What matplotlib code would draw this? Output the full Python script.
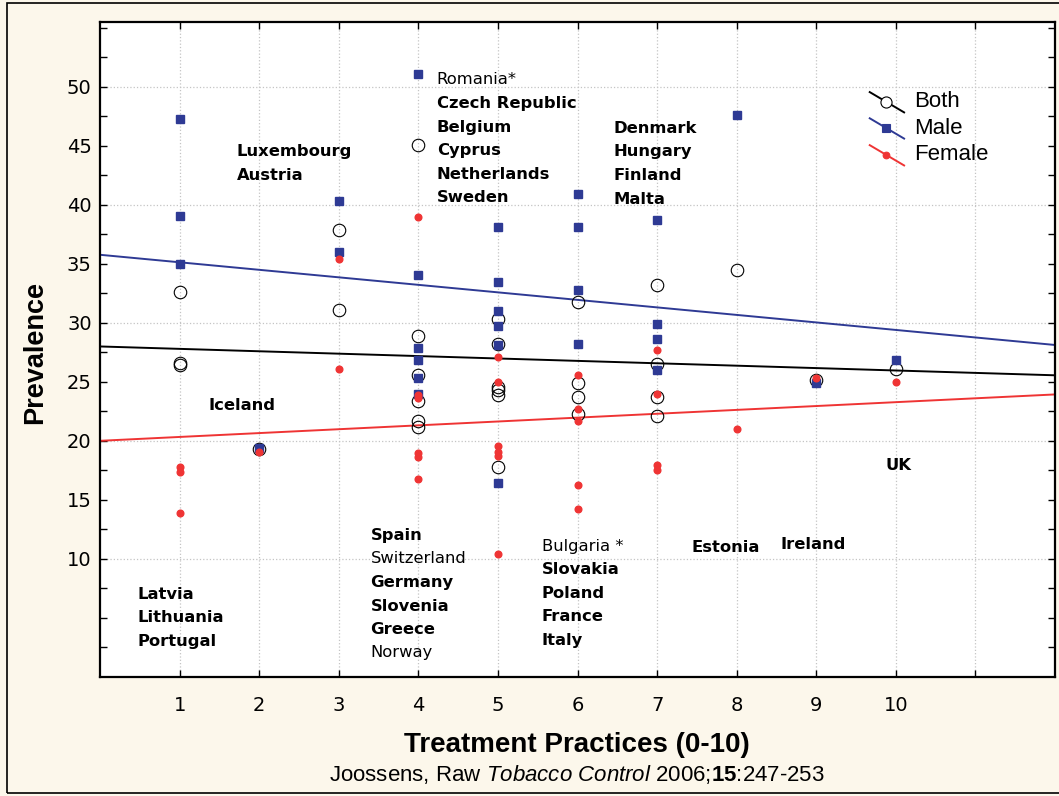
import numpy as np
import matplotlib
matplotlib.use("Agg")
import matplotlib.pyplot as plt
from matplotlib.patches import Rectangle

plt.rcParams['mathtext.fontset'] = 'custom'
plt.rcParams['mathtext.rm'] = 'Liberation Sans'
plt.rcParams['mathtext.it'] = 'Liberation Sans:italic'
plt.rcParams['mathtext.bf'] = 'Liberation Sans:bold'

# treatment practice score (x) and prevalence values
both_x = [1, 1, 1, 2, 3, 3, 4, 4, 4, 4, 4, 4, 5, 5, 5, 5, 5, 5,
          6, 6, 6, 6, 7, 7, 7, 7, 8, 9, 10]
both_y = [32.6, 26.6, 26.4, 19.3, 37.9, 31.1,
          45.1, 28.9, 25.6, 23.4, 21.7, 21.2,
          30.3, 28.2, 24.6, 24.3, 23.9, 17.8,
          31.8, 24.9, 23.7, 22.3,
          33.2, 26.5, 23.7, 22.1,
          34.5, 25.2, 26.1]

male_x = [1, 1, 1, 2, 3, 3, 4, 4, 4, 4, 4, 4, 5, 5, 5, 5, 5, 5,
          6, 6, 6, 6, 7, 7, 7, 7, 8, 9, 10]
male_y = [47.3, 39.1, 35.0, 19.4, 40.3, 36.0,
          51.1, 34.1, 27.9, 26.9, 25.3, 24.0,
          38.1, 33.5, 31.0, 29.7, 28.1, 16.4,
          40.9, 38.1, 32.8, 28.2,
          38.7, 29.9, 28.6, 26.0,
          47.6, 24.9, 26.9]

female_x = [1, 1, 1, 2, 3, 3, 4, 4, 4, 4, 4, 4, 5, 5, 5, 5, 5, 5,
            6, 6, 6, 6, 6, 7, 7, 7, 7, 8, 9, 10]
female_y = [17.8, 17.4, 13.9, 19.1, 35.4, 26.1,
            39.0, 23.9, 23.6, 19.0, 18.6, 16.8,
            27.1, 25.0, 19.6, 19.1, 18.7, 10.4,
            25.6, 22.7, 21.7, 16.3, 14.2,
            27.7, 24.0, 18.0, 17.5,
            21.0, 25.3, 25.0]

# country labels: (text, x, y, bold)
labels = [
    ("Latvia", 0.47, 7.0, True), ("Lithuania", 0.47, 5.0, True), ("Portugal", 0.47, 3.0, True),
    ("Luxembourg", 1.72, 44.5, True), ("Austria", 1.72, 42.5, True),
    ("Iceland", 1.36, 23.0, True),
    ("Romania*", 4.23, 50.6, False), ("Czech Republic", 4.23, 48.6, True),
    ("Belgium", 4.23, 46.6, True), ("Cyprus", 4.23, 44.6, True),
    ("Netherlands", 4.23, 42.6, True), ("Sweden", 4.23, 40.6, True),
    ("Denmark", 6.45, 46.5, True), ("Hungary", 6.45, 44.5, True),
    ("Finland", 6.45, 42.5, True), ("Malta", 6.45, 40.5, True),
    ("Spain", 3.40, 12.0, True), ("Switzerland", 3.40, 10.0, False),
    ("Germany", 3.40, 8.0, True), ("Slovenia", 3.40, 6.0, True),
    ("Greece", 3.40, 4.0, True), ("Norway", 3.40, 2.1, False),
    ("Bulgaria *", 5.55, 11.1, False), ("Slovakia", 5.55, 9.1, True),
    ("Poland", 5.55, 7.1, True), ("France", 5.55, 5.1, True), ("Italy", 5.55, 3.1, True),
    ("Estonia", 7.43, 11.0, True), ("Ireland", 8.55, 11.2, True), ("UK", 9.87, 17.9, True),
]

bg = '#fcf7eb'
c_male = '#2e3a94'
c_female = '#ef3434'

fig = plt.figure(figsize=(10.59, 7.96), dpi=100, facecolor=bg)
ax = fig.add_axes([100 / 1059, 1 - 677 / 796, 955 / 1059, 655 / 796])
ax.set_facecolor('white')

# frame around the figure
fig.patches.append(Rectangle((7 / 1059, 3 / 796), 1.1, 1 - 6 / 796, transform=fig.transFigure,
                             fill=False, edgecolor='black', lw=1.2))

ax.set_xlim(0, 12)
ax.set_ylim(0, 55.5)

# regression lines
xx = np.array([0, 12])
for xs, ys, col in [(both_x, both_y, 'black'), (male_x, male_y, c_male), (female_x, female_y, c_female)]:
    k, b = np.polyfit(xs, ys, 1)
    ax.plot(xx, k * xx + b, color=col, lw=1.4, zorder=2)

ax.plot(both_x, both_y, 'o', ms=9, mfc='none', mec='black', mew=0.8, zorder=3)
ax.plot(male_x, male_y, 's', ms=5.5, color=c_male, zorder=4)
ax.plot(female_x, female_y, 'o', ms=4.8, color=c_female, zorder=5)

for txt, x, y, bold in labels:
    if bold:
        ax.text(x, y, txt, fontsize=11.8, fontweight='bold', family='DejaVu Sans', va='center', ha='left')
    else:
        ax.text(x, y, txt, fontsize=11.8, family='DejaVu Sans', va='center', ha='left')

# ticks and grid
ax.set_xticks(np.arange(1, 12))
ax.set_xticklabels([str(i) for i in range(1, 11)] + [''])
yt = np.arange(2.5, 55.1, 2.5)
ax.set_yticks(yt)
ax.set_yticklabels([('%g' % v) if (10 <= v <= 50 and v % 5 == 0) else '' for v in yt])
ax.tick_params(direction='in', length=5, width=1, top=True, right=True, labelsize=14)
ax.tick_params(axis='x', pad=14)
ax.tick_params(axis='y', pad=6)
for lb in ax.get_xticklabels() + ax.get_yticklabels():
    lb.set_family('DejaVu Sans')
for x in range(1, 12):
    ax.axvline(x, color='#c4c4c4', ls=':', lw=0.9, zorder=0)
for y in [10, 20, 30, 40, 50]:
    ax.axhline(y, color='#c4c4c4', ls=':', lw=0.9, zorder=0)
for s in ax.spines.values():
    s.set_linewidth(1.6)

# legend drawn by hand with diagonal keys
leg = [("Both", 'black', 'o', 'white', 8, 0.893),
       ("Male", c_male, 's', c_male, 5.5, 0.853),
       ("Female", c_female, 'o', c_female, 4.8, 0.812)]
for name, col, mk, fc, ms, fy in leg:
    ax.plot([0.806, 0.842], [fy, fy - 0.031], color=col, lw=1.4, transform=ax.transAxes, clip_on=False)
    ax.plot([0.823], [fy - 0.015], mk, ms=ms, mfc=fc, mec=col, mew=0.8,
            transform=ax.transAxes, clip_on=False)
    ax.text(0.852, fy - 0.015, name, fontsize=16, family='Liberation Sans',
            va='center', ha='left', transform=ax.transAxes)

fig.text(577 / 1059, 1 - 745 / 796, "Treatment Practices (0-10)", fontsize=20,
         fontweight='bold', family='Liberation Sans', ha='center', va='center')
fig.text(35 / 1059, 1 - 352 / 796, "Prevalence", fontsize=19.5, fontweight='bold',
         family='Liberation Sans', rotation=90, ha='center', va='center')
fig.text(577 / 1059, 1 - 775 / 796,
         r"Joossens, Raw $\mathit{Tobacco\ Control}$ 2006;$\mathbf{15}$:247-253",
         fontsize=16, family='Liberation Sans', ha='center', va='center')

fig.savefig('out.png', dpi=100, facecolor=bg)
